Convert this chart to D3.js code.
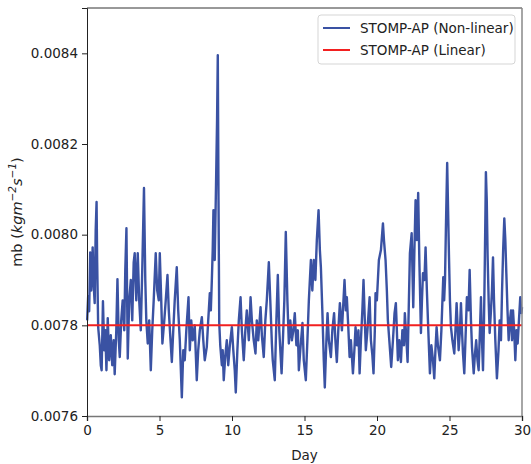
<!DOCTYPE html>
<html>
<head>
<meta charset="utf-8">
<script src="https://cdn.jsdelivr.net/npm/d3@7"></script>
<style>
  body { margin: 0; background: #fff; }
  text { font-family: "DejaVu Sans", sans-serif; fill: #222; }
</style>
</head>
<body>
<div class="chart"></div>
<script>
// day positions of the non-linear series
var days = [0.01, 0.08, 0.15, 0.22, 0.29, 0.36, 0.39, 0.46, 0.53, 0.60, 0.66, 0.70, 0.77,
  0.88, 0.95, 1.01, 1.10, 1.19, 1.26, 1.34, 1.43, 1.53, 1.64, 1.74, 1.84, 1.91, 2.02, 2.10, 2.19,
  2.26, 2.36, 2.46, 2.57, 2.64, 2.72, 2.81, 2.91, 3.02, 3.12, 3.22, 3.29, 3.40, 3.50, 3.60, 3.71,
  3.81, 3.93, 4.02, 4.09, 4.19,
  4.29, 4.40, 4.50, 4.60, 4.74, 4.84, 4.95, 5.02, 5.12, 5.20, 5.33, 5.43, 5.55, 5.64, 5.74, 5.85,
  5.95, 6.05, 6.19, 6.29, 6.40, 6.54, 6.64, 6.74, 6.85, 7.00, 7.09, 7.19, 7.29, 7.43, 7.57, 7.67,
  7.78, 7.92, 8.02, 8.12, 8.26, 8.36, 8.47,
  8.54, 8.61, 8.67, 8.72, 8.81, 8.90, 8.97, 9.02, 9.07, 9.12, 9.19, 9.30, 9.36, 9.43, 9.54, 9.64,
  9.74, 9.85, 9.99, 10.09, 10.19, 10.26, 10.37, 10.47, 10.59, 10.68, 10.81, 10.92, 11.02, 11.16,
  11.28, 11.37, 11.50, 11.62, 11.71, 11.81, 11.97, 12.06, 12.19, 12.30, 12.40, 12.54, 12.64, 12.75,
  12.81, 12.95, 13.06, 13.16, 13.26, 13.42, 13.51, 13.61, 13.71, 13.82, 13.92, 14.02, 14.13, 14.23,
  14.33, 14.44, 14.54, 14.61, 14.71, 14.86, 14.95, 15.09, 15.20, 15.30, 15.37, 15.44, 15.54, 15.64,
  15.75, 15.85, 15.97, 16.06, 16.13, 16.23, 16.33, 16.40, 16.51, 16.59, 16.68, 16.82, 16.92, 17.04,
  17.13, 17.23, 17.33, 17.44, 17.58, 17.76, 17.85, 17.92, 18.03, 18.11, 18.20, 18.34, 18.44, 18.52,
  18.61, 18.72, 18.80, 18.89, 18.99, 19.07, 19.16, 19.23, 19.34, 19.49, 19.58, 19.68, 19.76, 19.85,
  19.90, 19.99, 20.13, 20.27, 20.41, 20.48, 20.59, 20.68, 20.75, 20.85, 20.98, 21.10, 21.21,
  21.30, 21.37, 21.44, 21.54, 21.65, 21.75, 21.86, 21.92, 22.03, 22.11, 22.20, 22.27, 22.39, 22.50,
  22.58, 22.66, 22.75, 22.84, 22.92, 23.03, 23.10, 23.17, 23.27, 23.35, 23.44, 23.53, 23.65, 23.75,
  23.86, 23.95, 24.03, 24.11, 24.20, 24.34, 24.44, 24.57, 24.63, 24.69, 24.75, 24.84, 24.89, 24.96,
  25.03, 25.10, 25.20, 25.33, 25.41, 25.49,
  25.63, 25.72, 25.79, 25.86, 25.93, 26.02, 26.10, 26.20, 26.31, 26.39, 26.48, 26.55, 26.67, 26.75,
  26.84, 26.93, 27.01, 27.10, 27.17, 27.24, 27.31, 27.38, 27.42, 27.48, 27.51, 27.57, 27.63, 27.70,
  27.77, 27.86, 27.93, 28.00, 28.07, 28.16, 28.27, 28.38, 28.46, 28.55, 28.62, 28.70, 28.78, 28.85,
  28.92, 29.00, 29.08, 29.17, 29.24, 29.31, 29.38, 29.46, 29.54, 29.62, 29.70, 29.79, 29.88, 29.96, 30.0];

// mb values, in units of 1e-6 kg m-2 s-1
var mbNonLinear = [7811, 7864, 7831, 7961, 7877, 7939, 7972, 7889, 7849, 8010, 8072, 7944, 7796,
  7756, 7712, 7701, 7853, 7745, 7789, 7701, 7816, 7723, 7778, 7712, 7767, 7692, 7789, 7902, 7767,
  7730, 7811, 7855, 7789, 7922, 8014, 7727, 7855, 7900, 7811, 7939, 7959, 7855, 7959, 7855, 7789,
  7922, 8103, 7900, 7811, 7760,
  7811, 7701, 7789, 7855, 7959, 7877, 7855, 7959, 7855, 7760, 7811, 7855, 7911, 7833, 7778, 7719,
  7789, 7855, 7928, 7833, 7767, 7641, 7745, 7723, 7789, 7862, 7745, 7811, 7767, 7800, 7679, 7745,
  7789, 7818, 7767, 7723, 7752, 7811, 7871,
  7833, 7900, 7966, 8054, 7944, 8114, 8253, 8396, 8076, 7805, 7756, 7712, 7745, 7679, 7734, 7767,
  7712, 7756, 7796, 7745, 7701, 7652, 7745, 7811, 7862, 7789, 7723, 7789, 7833, 7767,
  7862, 7811, 7767, 7738, 7811, 7767, 7840, 7778, 7730, 7811, 7855, 7939, 7855, 7760,
  7723, 7679, 7811, 7911, 7789, 7694, 7767, 7855, 8006, 7855, 7760, 7811, 7767, 7789,
  7827, 7756, 7789, 7701, 7745, 7805, 7723, 7679, 7767, 7855, 7900, 7944, 7877, 7944,
  7900, 7988, 8054, 7966, 7928, 7833, 7723, 7663, 7767, 7827, 7767, 7730, 7789, 7827,
  7767, 7719, 7789, 7849, 7789, 7900, 7833, 7862, 7789, 7730, 7767, 7694, 7745, 7796,
  7756, 7789, 7694, 7767, 7833, 7900, 7811, 7745, 7789, 7862, 7767, 7734, 7694, 7789,
  7871, 7855, 7944, 7966, 8025, 7988, 7944, 7877, 7811, 7767, 7708, 7767, 7827,
  7849, 7789, 7723, 7767, 7719, 7789, 7756, 7827, 7767, 7719, 7855, 7959, 8003, 7840,
  7966, 8076, 7988, 8092, 7944, 7783, 7855, 7915, 7900, 7972, 7877, 7796, 7694, 7756,
  7723, 7683, 7745, 7796, 7756, 7723, 7789, 7906, 7855, 7900, 8010, 8158, 8076, 7959,
  7855, 7796, 7767, 7738, 7789, 7849,
  7745, 7789, 7849, 7789, 7738, 7694, 7767, 7862, 7833, 7922, 7811, 7752, 7694, 7734,
  7767, 7723, 7701, 7789, 7862, 7767, 7701, 7811, 7900, 8054, 8138, 8076, 7950, 7855,
  7783, 7833, 7877, 7950, 7855, 7767, 7683, 7745, 7811, 7767, 7871, 7966, 8036, 7988,
  7915, 7833, 7767, 7811, 7833, 7767, 7833, 7789, 7723, 7789, 7760, 7811, 7862, 7827, 7840];

var linearValue = 0.00780;
var xTicks = [0, 5, 10, 15, 20, 25, 30];
var yTicks = [0.0076, 0.0078, 0.0080, 0.0082, 0.0084];
var seriesNames = ["STOMP-AP (Non-linear)", "STOMP-AP (Linear)"];
var seriesColors = ["#3a52a3", "#f22020"];

var W = 531, H = 464;
var margin = {left: 87, right: 9, top: 8, bottom: 48};

var svg = d3.select(".chart").append("svg")
    .attr("width", W)
    .attr("height", H);

var x = d3.scaleLinear().domain([0, 30]).range([margin.left, W - margin.right]);
var y = d3.scaleLinear().domain([0.0076, 0.0085]).range([H - margin.bottom, margin.top]);

var pts = [];
for (var i = 0; i < days.length; i++) {
    pts.push([days[i], mbNonLinear[i] * 1e-6]);
}

var line = d3.line()
    .x(function(d) { return x(d[0]); })
    .y(function(d) { return y(d[1]); });

svg.append("path")
    .datum(pts)
    .attr("d", line)
    .style("fill", "none")
    .style("stroke", seriesColors[0])
    .style("stroke-width", 2.4)
    .style("stroke-linejoin", "round");

svg.append("line")
    .attr("x1", x(0)).attr("x2", x(30))
    .attr("y1", y(linearValue)).attr("y2", y(linearValue))
    .style("stroke", seriesColors[1])
    .style("stroke-width", 2);

// frame
svg.append("line").attr("x1", x(0)).attr("x2", x(30)).attr("y1", y(0.0085)).attr("y2", y(0.0085))
    .style("stroke", "#333").style("stroke-width", 1);
svg.append("line").attr("x1", x(30)).attr("x2", x(30)).attr("y1", y(0.0085)).attr("y2", y(0.0076))
    .style("stroke", "#888").style("stroke-width", 1.5);

var xAxis = svg.append("g")
    .attr("transform", "translate(0," + y(0.0076) + ")")
    .call(d3.axisBottom(x).tickValues(xTicks).tickSize(5).tickPadding(4));
xAxis.select(".domain").style("stroke", "#777").style("stroke-width", 1.5);

var yAxis = svg.append("g")
    .attr("transform", "translate(" + x(0) + ",0)")
    .call(d3.axisLeft(y).tickValues(yTicks).tickFormat(d3.format(".4f")).tickSize(5).tickPadding(4));
yAxis.select(".domain").style("stroke", "#222");

svg.selectAll(".tick text")
    .style("font-family", "DejaVu Sans, sans-serif")
    .style("font-size", "13.5px")
    .style("fill", "#222");
svg.selectAll(".tick line").style("stroke", "#222");

svg.append("text")
    .attr("x", (x(0) + x(30)) / 2)
    .attr("y", 460)
    .attr("text-anchor", "middle")
    .style("font-size", "13.5px")
    .text("Day");

var yl = svg.append("text")
    .attr("transform", "translate(22," + ((y(0.0076) + y(0.0085)) / 2) + ") rotate(-90)")
    .attr("text-anchor", "middle")
    .style("font-size", "14.5px");
yl.append("tspan").text("mb (");
yl.append("tspan").style("font-style", "italic").text("kgm");
yl.append("tspan").style("font-style", "italic").style("font-size", "10.5px").attr("dy", -6).text("\u22122");
yl.append("tspan").style("font-style", "italic").attr("dy", 6).text("s");
yl.append("tspan").style("font-style", "italic").style("font-size", "10.5px").attr("dy", -6).text("\u22121");
yl.append("tspan").attr("dy", 6).text(")");

// legend
var lg = svg.append("g").attr("transform", "translate(318,15)");
lg.append("rect")
    .attr("width", 197).attr("height", 49)
    .attr("rx", 3)
    .style("fill", "#fff").style("fill-opacity", 0.85)
    .style("stroke", "#d5d5d5");
for (var k = 0; k < seriesNames.length; k++) {
    lg.append("line")
        .attr("x1", 5).attr("x2", 32)
        .attr("y1", 13 + k * 22).attr("y2", 13 + k * 22)
        .style("stroke", seriesColors[k])
        .style("stroke-width", 2);
    lg.append("text")
        .attr("x", 42).attr("y", 18 + k * 22)
        .style("font-size", "13.5px")
        .text(seriesNames[k]);
}
</script>
</body>
</html>
